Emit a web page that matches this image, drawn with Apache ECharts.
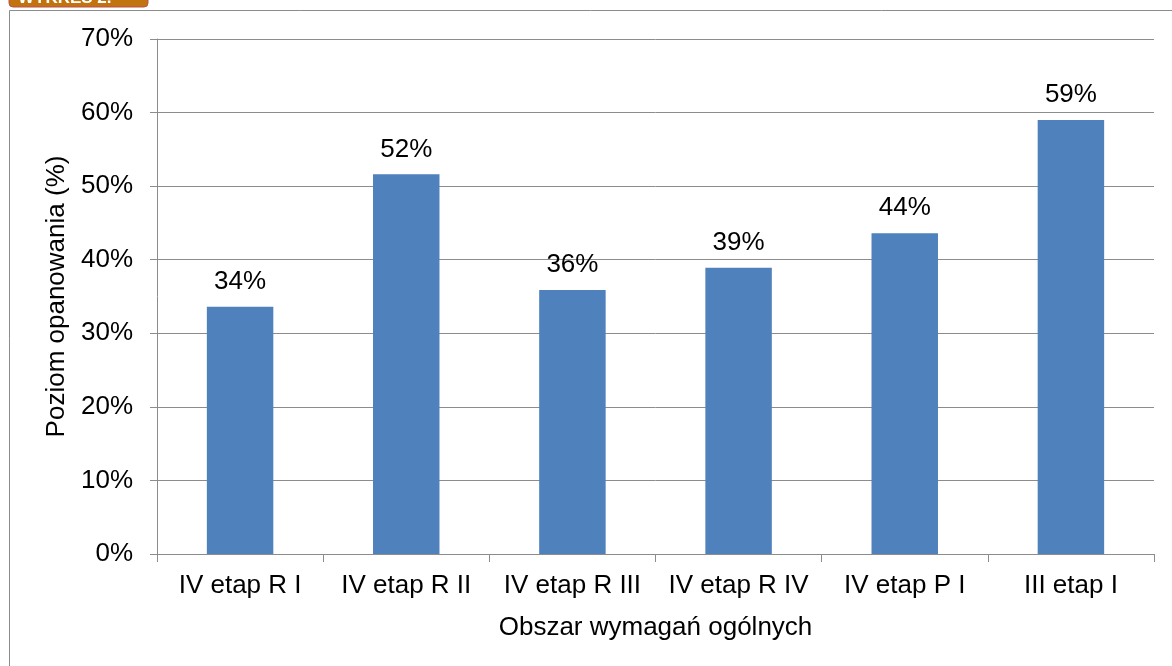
<!DOCTYPE html>
<html><head><meta charset="utf-8">
<script src="https://cdn.jsdelivr.net/npm/echarts@6/dist/echarts.min.js"></script>
<style>html,body{margin:0;padding:0;background:#fff}#c{width:1172px;height:666px}</style>
</head><body><div id="c"></div>
<script>
const categories = ['IV etap R I','IV etap R II','IV etap R III','IV etap R IV','IV etap P I','III etap I'];
const values = [33.6, 51.6, 35.9, 38.9, 43.6, 59.0];
const yTicks = [0,10,20,30,40,50,60,70];

const chart = echarts.init(document.getElementById('c'), null, {renderer:'canvas'});
const F = 'Liberation Sans, Arial, sans-serif';
const FS = 26;
chart.setOption({
  animation:false,
  grid:{left:157, right:18, top:39, bottom:112, containLabel:false},
  graphic:[
    {type:'line', shape:{x1:9.5,y1:10.5,x2:1172,y2:10.5}, style:{stroke:'#8c8c8c',lineWidth:1}},
    {type:'line', shape:{x1:9.5,y1:10.5,x2:9.5,y2:666}, style:{stroke:'#8c8c8c',lineWidth:1}},
    {type:'rect', shape:{x:9,y:-6,width:139,height:13,r:[0,0,4,4]}, style:{fill:'#c0730f',stroke:'#c0504d',lineWidth:1}},
    {type:'text', left:18, top:-10, style:{text:'WYKRES 2.', fill:'#fff', font:'bold 17px '+F}}
  ],
  xAxis:{
    type:'category', data:categories,
    name:'Obszar wymagań ogólnych', nameLocation:'middle', nameGap:61,
    nameTextStyle:{fontFamily:F, fontSize:FS, color:'#000'},
    axisLine:{lineStyle:{color:'#8c8c8c'}},
    axisTick:{show:true, length:8, alignWithLabel:false, lineStyle:{color:'#8c8c8c'}},
    axisLabel:{fontFamily:F, fontSize:FS, color:'#000', margin:19, interval:0}
  },
  yAxis:{
    type:'value', min:0, max:70, interval:10,
    name:'Poziom opanowania (%)', nameLocation:'middle', nameGap:84, nameRotate:90,
    nameTextStyle:{fontFamily:F, fontSize:FS, color:'#000'},
    axisLine:{show:true, lineStyle:{color:'#8c8c8c'}},
    axisTick:{show:true, length:7, lineStyle:{color:'#8c8c8c'}},
    axisLabel:{fontFamily:F, fontSize:FS, color:'#000', margin:24, formatter: v => yTicks.includes(v) ? v+'%' : ''},
    splitLine:{show:true, lineStyle:{color:'#8c8c8c', width:1}}
  },
  series:[{
    type:'bar', data:values, barWidth:'40%',
    itemStyle:{color:'#4f81bd'},
    label:{show:true, position:'top', distance:12, fontFamily:F, fontSize:FS, color:'#000',
      formatter: p => Math.round(p.value)+'%'}
  }]
});
</script></body></html>
